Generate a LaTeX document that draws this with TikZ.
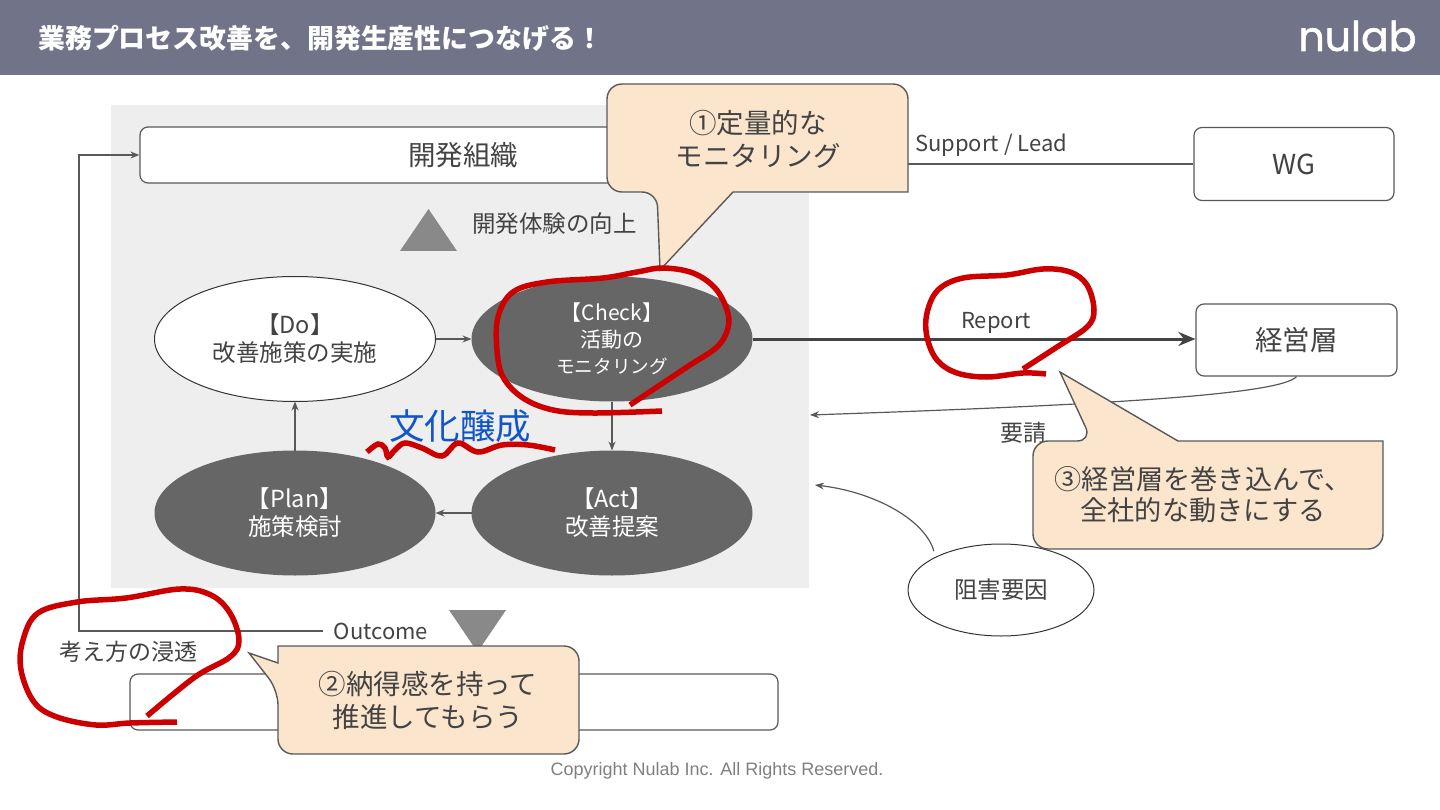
\documentclass[tikz,border=0pt]{standalone}
\usepackage{fontspec}
\setmainfont{Noto Sans CJK JP}
\newfontfamily\copyfont{Liberation Sans}
\newfontfamily\logofont{Poppins}
\usepackage{xcolor}
\usetikzlibrary{arrows.meta, positioning, shapes.geometric, calc}
\definecolor{headbg}{HTML}{717388}
\definecolor{panelbg}{HTML}{EEEEEE}
\definecolor{inkgray}{HTML}{434343}
\definecolor{linegray}{HTML}{595959}
\definecolor{darkfill}{HTML}{666666}
\definecolor{tribg}{HTML}{898989}
\definecolor{callbg}{HTML}{FCE5CD}
\definecolor{markred}{HTML}{CC0000}
\definecolor{cultblue}{HTML}{1155CC}
\newcommand{\fs}[2]{\fontsize{#1}{#2}\selectfont}

\begin{document}
\begin{tikzpicture}[
  x=1pt, y=-1pt,
  wbox/.style={draw=linegray, line width=1.2pt, rounded corners=8pt, fill=white, inner sep=0pt, text=inkgray, font=\fs{27.5}{32}},
  wcycle/.style={ellipse, draw=black!80, line width=1pt, fill=white, text=inkgray, minimum width=281pt, minimum height=125pt, inner sep=0pt, outer sep=0pt, align=center, font=\fs{23.5}{28}},
  dcycle/.style={wcycle, draw=none, fill=darkfill, text=white},
  flow/.style={-{Stealth[length=9pt, width=7pt]}, draw=linegray, line width=1.2pt},
  label/.style={text=inkgray, inner sep=0pt, font=\fs{22}{26}},
  callbox/.style={draw=linegray, line width=1.4pt, fill=callbg},
  calltext/.style={text=inkgray, inner sep=0pt, align=center, font=\fs{27.5}{33}},
  redmark/.style={draw=markred, line width=5.5pt},
  bigtri/.style={fill=tribg, draw=none}
]
\useasboundingbox (0,0) rectangle (1440,810);
\fill[headbg] (0,0) rectangle (1440,75);
\node[anchor=west, inner sep=0pt, text=white, font=\fs{26.9}{30}\bfseries] (title) at (38,38) {業務プロセス改善を、開発生産性につなげる！};
\node[anchor=center, inner sep=0pt, text=white, font=\logofont\fs{41}{46}\addfontfeature{FakeBold=1.5}] (logo) at (1357.5,36) {nulab};

\fill[panelbg] (111,105) rectangle (809,588);

% boxes
\node[wbox, minimum width=646pt, minimum height=56pt] (org) at (463,155) {開発組織};
\node[wbox, minimum width=200pt, minimum height=73pt] (wg) at (1294,164) {WG};
\node[wbox, minimum width=201pt, minimum height=72pt] (mgmt) at (1296.5,340) {経営層};
\node[wbox, minimum width=648pt, minimum height=56pt] (out) at (454,702) {};

% triangles
\fill[bigtri] (400,251) -- (457,251) -- (428.5,209) -- cycle;
\fill[bigtri] (449,610) -- (506,610) -- (477.5,652) -- cycle;

% cycle
\node[wcycle] (do) at (295,339) {【Do】\\改善施策の実施};
\node[dcycle, right=36pt of do, font=\fs{21}{26.5}] (check) {【Check】\\活動の\\{\fs{18.6}{26.5}モニタリング}};
\node[dcycle, below=49pt of do] (plan) {【Plan】\\施策検討};
\node[dcycle, below=49pt of check] (act) {【Act】\\改善提案};
\draw[flow] (do) -- (check);
\draw[flow] (check) -- (act);
\draw[flow] (act) -- (plan);
\draw[flow] (plan) -- (do);

\node[label, anchor=west, font=\fs{23.5}{28}] (dx) at (472,224) {開発体験の向上};
\node[inner sep=0pt, text=cultblue, font=\fs{35.5}{40}] (culture) at (460,426) {文化醸成};

% right side
\node[ellipse, draw=black!80, line width=1pt, fill=white, text=inkgray, minimum width=186pt, minimum height=92pt, inner sep=0pt, font=\fs{23.5}{28}] (block) at (1001,590) {阻害要因};
\coordinate (mgmtin) at (810,415);
\coordinate (blockin) at (815,485);
\draw[flow] (mgmt.south) .. controls (1280,395) and (1100,405) .. (mgmtin);
\draw[flow] (block.north west) ++(-1,-6) coordinate (blockout) .. controls (925,520) and (875,492) .. (blockin);
\draw[-{Stealth[length=17pt, width=14pt]}, draw=inkgray, line width=3pt] (check) -- (mgmt.west |- check);
\draw[draw=linegray, line width=1.2pt] (wg.west) -- (wg.west -| org.east);
\node[label, anchor=west] (support) at (915,145) {Support / Lead};
\node[label] (report) at (996,323) {Report};
\node[label, font=\fs{23}{27}] (request) at (1023,433) {要請};

% outcome
\coordinate (turn) at (79,155);
\node[label] (outcome) at (381,631) {Outcome};
\node[label, font=\fs{23}{27}] (spread) at (128,652) {考え方の浸透};
\draw[flow] (outcome.west) ++(-11,0) coordinate (outstart) -| (turn) -- (org.west);

% callouts
\draw[callbox] (660,270) -- (733,192) -- (908,192) [rounded corners=15pt] -- (908,84) -- (607,84) -- (607,192) -- (657,192) [sharp corners] -- cycle;
\node[calltext] (callone) at (758,139) {①定量的な\\モニタリング};
\draw[callbox] (249,653) -- (278,663) -- (278,646) [rounded corners=15pt] -- (579,646) -- (579,754) -- (278,754) -- (278,690) [sharp corners] -- cycle;
\node[calltext] (calltwo) at (428,700) {②納得感を持って\\推進してもらう};
\draw[callbox] (1060,372) -- (1178,441) -- (1383,441) [rounded corners=15pt] -- (1383,549) -- (1033,549) -- (1033,441) -- (1092,441) [sharp corners] -- cycle;
\node[calltext, font=\fs{27.2}{31}] (callthree) at (1203,495) {③経営層を巻き込んで、\\全社的な動きにする};

% red pen
\draw[redmark] plot[smooth, tension=0.6] coordinates {(662,411) (593,413) (553,410) (523,398) (503,377) (497,350) (498,317) (513,292) (547,282) (603,278) (637,272) (663,268) (693,273) (715,288) (727,310) (728,328) (717,347) (690,365) (657,387) (630,405)};
\draw[redmark] plot[smooth, tension=0.6] coordinates {(1046,374) (1023,373) (987,377) (957,373) (937,360) (927,337) (927,313) (938,290) (963,278) (1007,275) (1043,269) (1070,272) (1087,285) (1094,310) (1087,327) (1057,347) (1023,369)};
\draw[redmark] plot[smooth, tension=0.6] coordinates {(177,722) (130,723) (96,725) (57,717) (34,702) (21,670) (23,640) (38,613) (77,602) (126,598) (180,589) (211,595) (230,613) (239,640) (230,657) (195,677) (147,716)};
\draw[redmark] plot[smooth, tension=0.6] coordinates {(367,452) (378,444) (385,448) (388,457) (395,450) (405,443) (422,448) (442,456) (458,443) (478,452) (502,445) (528,445) (555,450)};

\node[inner sep=0pt, text=black!50, font=\copyfont\fs{18}{22}] (copy) at (717,771) {Copyright Nulab Inc. All Rights Reserved.};
\end{tikzpicture}
\end{document}
